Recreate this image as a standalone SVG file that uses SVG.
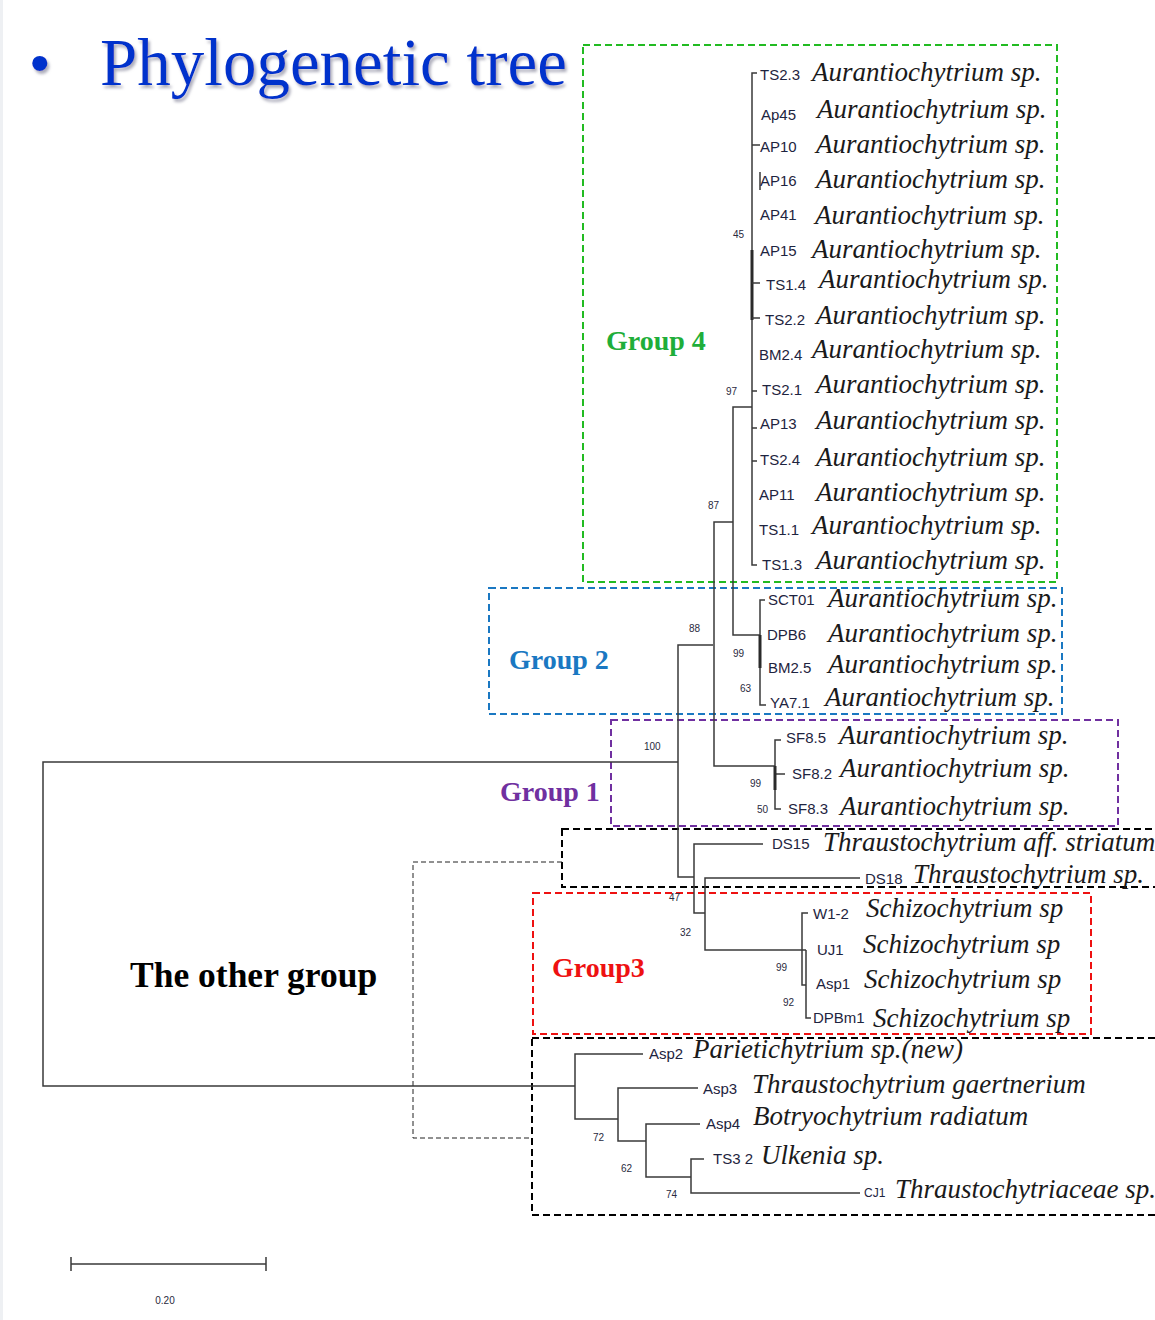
<svg xmlns="http://www.w3.org/2000/svg" width="1155" height="1320" viewBox="0 0 1155 1320">
<defs>
<filter id="sh" x="-5%" y="-20%" width="110%" height="140%"><feDropShadow dx="2" dy="3" stdDeviation="1.5" flood-color="#9999aa" flood-opacity="0.8"/></filter>
</defs>
<style>
.t{fill:none;stroke:#3a3a3a;stroke-width:1.5}
.tk{fill:none;stroke:#2a2a2a;stroke-width:3}
.lf{font-family:"Liberation Sans",Arial,sans-serif;font-size:15px;fill:#1e2440}
.sp{font-family:"Liberation Serif","Times New Roman",serif;font-style:italic;font-size:27px;fill:#1a1a1a}
.bs{font-family:"Liberation Sans",Arial,sans-serif;font-size:10px;fill:#2a2a40}
.grp{font-family:"Liberation Serif","Times New Roman",serif;font-weight:bold;font-size:28px}
.box{fill:none;stroke-width:2;stroke-dasharray:7 4}
</style>
<rect width="1155" height="1320" fill="#ffffff"/>
<rect x="0" y="0" width="3" height="1320" fill="#eef0f3"/>
<g id="title" filter="url(#sh)">
<text x="30" y="82" font-family="Liberation Sans,Arial,sans-serif" font-size="56" fill="#0033cc">•</text>
<text x="100" y="85" font-family="Liberation Serif,Times New Roman,serif" font-size="67" fill="#0033cc">Phylogenetic tree</text>
</g>
<g id="boxes">
<rect id="box-group4" class="box" x="583" y="45" width="474" height="537" stroke="#22bb22"/>
<rect id="box-group2" class="box" x="489" y="588" width="573" height="126" stroke="#1a78c2"/>
<rect id="box-group1" class="box" x="611" y="720" width="507" height="106" stroke="#7030a0"/>
<rect id="box-ds" class="box" x="562" y="829" width="600" height="58" stroke="#000000"/>
<rect id="box-group3" class="box" x="533" y="893" width="558" height="141" stroke="#ee1111"/>
<rect id="box-other" class="box" x="532" y="1038" width="630" height="177" stroke="#000000"/>
<path id="bracket-other" d="M562,862 H413 V1138 H532" fill="none" stroke="#222" stroke-width="1" stroke-dasharray="5 3"/>
</g>
<g id="connectors">
<path class="t" d="M678,762 H43 V1086 H575"/>
<path class="t" d="M713,645 H678 V877 H694"/>
<path class="t" d="M733,522 H714 V766 H775"/>
<path class="t" d="M752,407 H733 V635 H760"/>
<path class="t" d="M757,73 H752 V565 H757"/>
<path class="tk" d="M752,250 V320"/>
<path class="t" d="M752,145 H760 M760,172 V190 M752,283 H760 M752,318 H760 M752,391 H757 M752,428 H757 M752,461 H757"/>
<path class="t" d="M765,600 H760 V705 H766"/>
<path class="tk" d="M760,635 V668"/>
<path class="t" d="M781,740 H775 V809 H781 M775,774 H785"/>
<path class="tk" d="M775,766 V790"/>
<path class="t" d="M763,844 H694 V913 H705"/>
<path class="t" d="M860,878 H705 V950 H802"/>
<path class="t" d="M808,913 H802 V985 H806 M802,950 H806 M806,950 V1018 H811"/>
<path class="t" d="M643,1054 H575 V1119 H618"/>
<path class="t" d="M698,1088 H618 V1141 H646"/>
<path class="t" d="M700,1124 H646 V1177 H691"/>
<path class="t" d="M704,1159 H691 V1193 H860"/>
</g>
<g id="group4-leaves">
<text class="lf" x="760" y="80">TS2.3</text><text class="sp" x="812" y="81">Aurantiochytrium sp.</text>
<text class="lf" x="761" y="120">Ap45</text><text class="sp" x="817" y="118">Aurantiochytrium sp.</text>
<text class="lf" x="760" y="152">AP10</text><text class="sp" x="816" y="153">Aurantiochytrium sp.</text>
<text class="lf" x="760" y="186">AP16</text><text class="sp" x="816" y="188">Aurantiochytrium sp.</text>
<text class="lf" x="760" y="220">AP41</text><text class="sp" x="815" y="224">Aurantiochytrium sp.</text>
<text class="lf" x="760" y="256">AP15</text><text class="sp" x="812" y="258">Aurantiochytrium sp.</text>
<text class="lf" x="766" y="290">TS1.4</text><text class="sp" x="819" y="288">Aurantiochytrium sp.</text>
<text class="lf" x="765" y="325">TS2.2</text><text class="sp" x="816" y="324">Aurantiochytrium sp.</text>
<text class="lf" x="759" y="360">BM2.4</text><text class="sp" x="812" y="358">Aurantiochytrium sp.</text>
<text class="lf" x="762" y="395">TS2.1</text><text class="sp" x="816" y="393">Aurantiochytrium sp.</text>
<text class="lf" x="760" y="429">AP13</text><text class="sp" x="816" y="429">Aurantiochytrium sp.</text>
<text class="lf" x="760" y="465">TS2.4</text><text class="sp" x="816" y="466">Aurantiochytrium sp.</text>
<text class="lf" x="759" y="500">AP11</text><text class="sp" x="816" y="501">Aurantiochytrium sp.</text>
<text class="lf" x="759" y="535">TS1.1</text><text class="sp" x="812" y="534">Aurantiochytrium sp.</text>
<text class="lf" x="762" y="570">TS1.3</text><text class="sp" x="816" y="569">Aurantiochytrium sp.</text>
</g>
<g id="group2-leaves">
<text class="lf" x="768" y="605">SCT01</text><text class="sp" x="828" y="607">Aurantiochytrium sp.</text>
<text class="lf" x="767" y="640">DPB6</text><text class="sp" x="828" y="642">Aurantiochytrium sp.</text>
<text class="lf" x="768" y="673">BM2.5</text><text class="sp" x="828" y="673">Aurantiochytrium sp.</text>
<text class="lf" x="770" y="708">YA7.1</text><text class="sp" x="825" y="706">Aurantiochytrium sp.</text>
</g>
<g id="group1-leaves">
<text class="lf" x="786" y="743">SF8.5</text><text class="sp" x="839" y="744">Aurantiochytrium sp.</text>
<text class="lf" x="792" y="779">SF8.2</text><text class="sp" x="840" y="777">Aurantiochytrium sp.</text>
<text class="lf" x="788" y="814">SF8.3</text><text class="sp" x="840" y="815">Aurantiochytrium sp.</text>
</g>
<g id="ds-leaves">
<text class="lf" x="772" y="849">DS15</text><text class="sp" x="823" y="851">Thraustochytrium aff. striatum</text>
<text class="lf" x="865" y="884">DS18</text><text class="sp" x="913" y="883">Thraustochytrium sp.</text>
</g>
<g id="group3-leaves">
<text class="lf" x="813" y="919">W1-2</text><text class="sp" x="866" y="917">Schizochytrium sp</text>
<text class="lf" x="817" y="955">UJ1</text><text class="sp" x="863" y="953">Schizochytrium sp</text>
<text class="lf" x="816" y="989">Asp1</text><text class="sp" x="864" y="988">Schizochytrium sp</text>
<text class="lf" x="813" y="1023">DPBm1</text><text class="sp" x="873" y="1027">Schizochytrium sp</text>
</g>
<g id="other-leaves">
<text class="lf" x="649" y="1059">Asp2</text><text class="sp" x="693" y="1058">Parietichytrium sp.(new)</text>
<text class="lf" x="703" y="1094">Asp3</text><text class="sp" x="752" y="1093">Thraustochytrium gaertnerium</text>
<text class="lf" x="706" y="1129">Asp4</text><text class="sp" x="753" y="1125">Botryochytrium radiatum</text>
<text class="lf" x="713" y="1164">TS3 2</text><text class="sp" x="761" y="1164">Ulkenia sp.</text>
<text class="lf" x="864" y="1197" style="font-size:12px">CJ1</text><text class="sp" x="895" y="1198">Thraustochytriaceae sp.</text>
</g>
<g id="bootstrap">
<text class="bs" x="733" y="238">45</text>
<text class="bs" x="726" y="395">97</text>
<text class="bs" x="708" y="509">87</text>
<text class="bs" x="689" y="632">88</text>
<text class="bs" x="733" y="657">99</text>
<text class="bs" x="740" y="692">63</text>
<text class="bs" x="644" y="750">100</text>
<text class="bs" x="750" y="787">99</text>
<text class="bs" x="757" y="813">50</text>
<text class="bs" x="669" y="901">47</text>
<text class="bs" x="680" y="936">32</text>
<text class="bs" x="776" y="971">99</text>
<text class="bs" x="783" y="1006">92</text>
<text class="bs" x="593" y="1141">72</text>
<text class="bs" x="621" y="1172">62</text>
<text class="bs" x="666" y="1198">74</text>
</g>
<g id="group-labels">
<text class="grp" x="606" y="350" fill="#1fae3a">Group 4</text>
<text class="grp" x="509" y="669" fill="#1a78c2">Group 2</text>
<text class="grp" x="500" y="801" fill="#7030a0">Group 1</text>
<text class="grp" x="552" y="977" fill="#ee1111">Group3</text>
<text class="grp" x="130" y="987" fill="#000" style="font-size:35.5px">The other group</text>
</g>
<g id="scale-bar">
<path class="t" d="M71,1264 H266 M71,1257 V1271 M266,1257 V1271"/>
<text class="bs" x="165" y="1304" text-anchor="middle">0.20</text>
</g>
</svg>
